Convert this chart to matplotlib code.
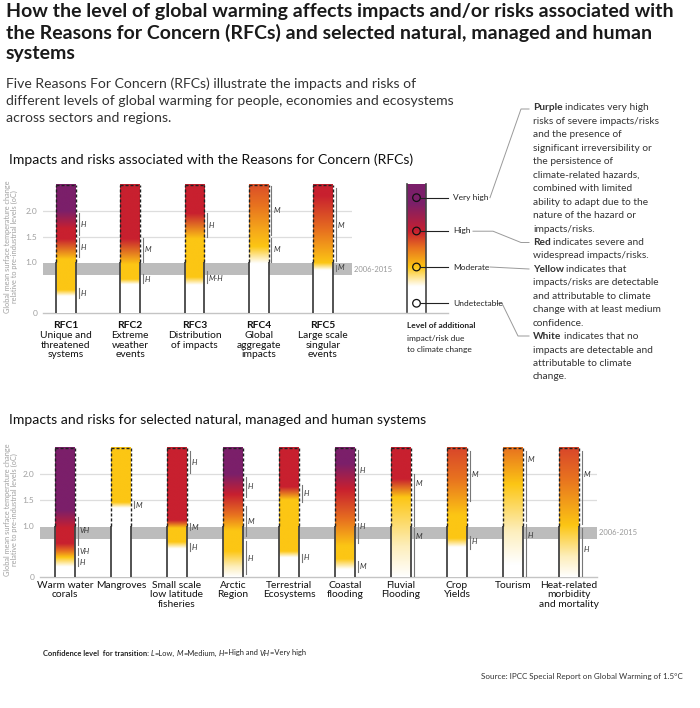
import numpy as np
import matplotlib
matplotlib.use('Agg')
import matplotlib.pyplot as plt
from matplotlib import transforms
from matplotlib.colors import to_rgb
from matplotlib.lines import Line2D

plt.rcParams['font.family'] = ['Lato', 'DejaVu Sans']

# colours of the risk scale
white = '#ffffff'
pale = '#fdeebb'
yellow = '#fcc614'
orange = '#e8731f'
redorange = '#d9472a'
red = '#c8202f'
purple = '#7b1f6a'

# Reasons for Concern (top panel)
rfc_names = ['RFC1', 'RFC2', 'RFC3', 'RFC4', 'RFC5']
rfc_desc = ['Unique and\nthreatened\nsystems', 'Extreme\nweather\nevents', 'Distribution\nof impacts',
            'Global\naggregate\nimpacts', 'Large scale\nsingular\nevents']
rfc_levels = [[0, 0.33, 0.45, 1.05, 1.45, 1.65, 2.0, 2.6],
              [0, 0.56, 0.66, 0.95, 1.45, 2.6],
              [0, 0.55, 0.70, 1.45, 1.95, 2.6],
              [0, 0.97, 1.30, 1.60, 2.10, 2.6],
              [0, 0.84, 0.98, 1.60, 2.30, 2.6]]
rfc_colors = [[white, white, yellow, yellow, red, red, purple, purple],
              [white, white, yellow, yellow, red, red],
              [white, white, yellow, yellow, red, red],
              [white, white, yellow, '#f6aa1a', orange, redorange],
              [white, white, yellow, orange, red, red]]
# confidence of transitions: (from, to, label at, text)
rfc_conf = [[(1.53, 1.97, 1.75, 'H'), (1.10, 1.47, 1.28, 'H'), (0.30, 0.49, 0.38, 'H')],
            [(1.00, 1.47, 1.24, 'M'), (0.60, 0.77, 0.66, 'H')],
            [(1.50, 1.97, 1.73, 'H'), (0.60, 0.83, 0.67, 'M-H')],
            [(1.53, 2.50, 2.02, 'M'), (1.00, 1.47, 1.25, 'M')],
            [(1.03, 2.47, 1.72, 'M'), (0.83, 0.94, 0.89, 'M')]]

# selected natural, managed and human systems (bottom panel)
sys_names = ['Warm water\ncorals', 'Mangroves', 'Small scale\nlow latitude\nfisheries', 'Arctic\nRegion',
             'Terrestrial\nEcosystems', 'Coastal\nflooding', 'Fluvial\nFlooding', 'Crop\nYields',
             'Tourism', 'Heat-related\nmorbidity\nand mortality']
sys_levels = [[0, 0.20, 0.38, 0.50, 0.65, 0.95, 1.30, 2.6],
              [0, 1.34, 1.45, 2.6],
              [0, 0.55, 0.68, 0.95, 1.10, 2.6],
              [0, 0.20, 0.50, 0.90, 1.20, 1.60, 2.00, 2.6],
              [0, 0.38, 0.50, 1.50, 1.75, 2.6],
              [0, 0.15, 0.35, 0.60, 1.10, 1.70, 2.20, 2.6],
              [0, 0.60, 1.55, 1.90, 2.6],
              [0, 0.58, 0.75, 1.20, 1.90, 2.5],
              [0, 0.25, 0.90, 1.80, 2.5],
              [0, 0.40, 1.00, 1.90, 2.5]]
sys_colors = [[white, white, yellow, orange, red, red, purple, purple],
              [white, white, yellow, yellow],
              [white, white, yellow, yellow, red, red],
              [white, pale, yellow, yellow, orange, red, purple, purple],
              [white, white, yellow, yellow, red, red],
              [white, white, yellow, yellow, orange, red, purple, purple],
              [white, pale, yellow, red, red],
              [white, white, yellow, yellow, orange, redorange],
              [white, white, pale, yellow, orange],
              [white, pale, yellow, orange, redorange]]
sys_conf = [[(0.62, 1.17, 0.90, 'VH'), (0.42, 0.56, 0.49, 'VH'), (0.20, 0.36, 0.28, 'H')],
            [(1.34, 1.47, 1.40, 'M')],
            [(2.02, 2.46, 2.24, 'H'), (0.91, 1.05, 0.97, 'M'), (0.51, 0.66, 0.58, 'H')],
            [(1.55, 1.95, 1.76, 'H'), (0.80, 1.38, 1.08, 'M'), (0.05, 0.70, 0.36, 'H')],
            [(1.45, 1.80, 1.63, 'H'), (0.28, 0.45, 0.37, 'H')],
            [(1.10, 2.47, 2.08, 'H'), (0.66, 1.05, 0.98, 'H'), (0.10, 0.30, 0.20, 'M')],
            [(1.00, 2.00, 1.82, 'M'), (0.00, 0.95, 0.79, 'M')],
            [(1.48, 2.46, 2.00, 'M'), (0.55, 0.80, 0.68, 'H')],
            [(1.09, 2.46, 2.28, 'M'), (0.00, 1.02, 0.80, 'H')],
            [(1.02, 2.46, 2.00, 'M'), (0.00, 0.95, 0.53, 'H')]]

bar_top = 2.52
band = (0.74, 0.98)
band_label = '2006-2015'
yticks = [0, 1.0, 1.5, 2.0]
ytick_labels = ['0', '1.0', '1.5', '2.0']

legend_names = ['Very high', 'High', 'Moderate', 'Undetectable']
legend_pos = [0.893, 0.632, 0.35, 0.066]
legend_levels = [0, 0.2, 0.35, 0.5, 0.63, 0.85, 1.0]
legend_colors = [white, white, yellow, orange, red, purple, purple]

W, H = 700, 708
fig = plt.figure(figsize=(7, 7.08), dpi=100)
renderer = fig.canvas.get_renderer()


def fx(x):
    return x / W


def fy(y):
    return 1 - y / H


def gradient(levels, colors, top, n=400):
    v = np.linspace(0, top, n)
    rgb = np.array([to_rgb(c) for c in colors])
    img = np.stack([np.interp(v, levels, rgb[:, k]) for k in range(3)], axis=1)
    return img[:, None, :]


def rich_line(x, y, parts, size, color, gap=2.4):
    # write bold / italic pieces one after another on the same line
    for part in parts:
        txt, kw = part[0], part[1]
        g = part[2] if len(part) > 2 else gap
        t = fig.text(fx(x), fy(y), txt, fontsize=size, color=color, va='center', **kw)
        x += t.get_window_extent(renderer).width + g


def draw_panel(ax, levels, colors, confs, names, width, label_y, xmax_zero, bold_names=None):
    n = len(levels)
    ax.axhspan(band[0], band[1], color='#bcbcbc', lw=0, zorder=0.5)
    for g in (1.5, 2.0):
        ax.axhline(g, color='#dddddd', lw=0.9, zorder=0.2)
    ax.axhline(0, xmin=0, xmax=xmax_zero, color='#c4c4c4', lw=1.0, clip_on=False, zorder=0.3)
    conf_line = transforms.offset_copy(ax.transData, fig, x=2.6, units='dots')
    conf_text = transforms.offset_copy(ax.transData, fig, x=4.5, units='dots')
    lab_tr = transforms.blended_transform_factory(ax.transData, fig.transFigure)
    for i in range(n):
        xl, xr = i - width / 2, i + width / 2
        ax.imshow(gradient(levels[i], colors[i], bar_top), origin='lower', aspect='auto',
                  extent=[xl, xr, 0, bar_top], interpolation='bilinear', zorder=2)
        for xe in (xl, xr):
            ax.plot([xe, xe], [0, 1.0], color='#444444', lw=1.3, zorder=3, solid_capstyle='butt')
            ax.plot([xe, xe], [1.0, bar_top], color='#222222', lw=1.0, ls=(0, (2.2, 1.4)), zorder=3)
        ax.plot([xl, xr], [bar_top, bar_top], color='#222222', lw=1.0, ls=(0, (2.2, 1.4)), zorder=3)
        for lo, hi, at, txt in confs[i]:
            ax.plot([xr, xr], [lo, hi], color='#777777', lw=0.8, transform=conf_line, zorder=3)
            ax.text(xr, at, txt, transform=conf_text, fontsize=5.5, style='italic',
                    color='#333333', va='center', ha='left', zorder=4)
        if bold_names is not None:
            ax.text(i, fy(label_y), bold_names[i], transform=lab_tr, ha='center', va='center',
                    fontsize=7.4, weight='bold', color='#111111')
            ax.text(i, fy(label_y + 5.5), names[i], transform=lab_tr, ha='center', va='top',
                    fontsize=7.4, color='#111111', linespacing=1.05)
        else:
            ax.text(i, fy(label_y), names[i], transform=lab_tr, ha='center', va='top',
                    fontsize=7.4, color='#111111', linespacing=1.05)
    ax.set_ylim(0, 2.6)
    ax.set_yticks(yticks)
    ax.set_yticklabels(ytick_labels)
    ax.tick_params(axis='y', length=0, pad=4, labelsize=6, labelcolor='#a0a0a0')
    ax.set_xticks([])
    for s in ax.spines.values():
        s.set_visible(False)
    ax.patch.set_alpha(0)
    ax.text(1.0, (band[0] + band[1]) / 2, ' ' + band_label, transform=ax.get_yaxis_transform(),
            fontsize=5.5, color='#999999', va='center', ha='left')


# ---- titles
title = ['How the level of global warming affects impacts and/or risks associated with',
         'the Reasons for Concern (RFCs) and selected natural, managed and human',
         'systems']
for k, line in enumerate(title):
    fig.text(fx(6), fy(11 + 21.5 * k), line, fontsize=14.0, weight='bold', color='#1a1a1a', va='center')
sub = ['Five Reasons For Concern (RFCs) illustrate the impacts and risks of',
       'different levels of global warming for people, economies and ecosystems',
       'across sectors and regions.']
for k, line in enumerate(sub):
    fig.text(fx(6), fy(84 + 17 * k), line, fontsize=10.1, color='#333333', va='center')
fig.text(fx(9), fy(160), 'Impacts and risks associated with the Reasons for Concern (RFCs)',
         fontsize=10.1, color='#111111', va='center')
fig.text(fx(9), fy(420), 'Impacts and risks for selected natural, managed and human systems',
         fontsize=10.1, color='#111111', va='center')

# ---- top panel
ax1 = fig.add_axes([fx(43), fy(313), (352 - 43) / W, (313 - 180.9) / H])
draw_panel(ax1, rfc_levels, rfc_colors, rfc_conf, rfc_desc, 0.311, 326, (448 - 43) / (352 - 43),
           bold_names=rfc_names)
ax1.set_xlim((43 - 66) / 64.25, (352 - 66) / 64.25)

# ---- bottom panel
ax2 = fig.add_axes([fx(40), fy(576.7), (597 - 40) / W, (576.7 - 443.6) / H])
draw_panel(ax2, sys_levels, sys_colors, sys_conf, sys_names, 0.357, 581, 1.0)
ax2.set_xlim((40 - 65) / 56, (597 - 65) / 56)

ylab = 'Global mean surface temperature change\nrelative to pre-industrial levels (oC)'
fig.text(fx(11), fy(247), ylab, rotation=90, fontsize=5.3, color='#a0a0a0', ha='center', va='center',
         linespacing=1.0)
fig.text(fx(11), fy(510), ylab, rotation=90, fontsize=5.3, color='#a0a0a0', ha='center', va='center',
         linespacing=1.0)

# ---- legend scale
lb, lt = 311.7, 184
axl = fig.add_axes([fx(407), fy(lb), 19 / W, (lb - lt) / H])
axl.imshow(gradient(legend_levels, legend_colors, 1.0), origin='lower', aspect='auto',
           extent=[0, 1, 0, 1], interpolation='bilinear')
axl.scatter([0.5] * len(legend_pos), legend_pos, s=30, facecolor='none', edgecolor='#111111', lw=0.9, zorder=3)
axl.set_xlim(0, 1)
axl.set_ylim(0, 1)
axl.set_xticks([])
axl.set_yticks([])
for side in ('top', 'bottom'):
    axl.spines[side].set_visible(False)
for side in ('left', 'right'):
    axl.spines[side].set_color('#444444')
    axl.spines[side].set_linewidth(1.2)
for name, p in zip(legend_names, legend_pos):
    yy = lb - p * (lb - lt)
    fig.add_artist(Line2D([fx(420.5), fx(448)], [fy(yy), fy(yy)], color='#222222', lw=0.8))
    fig.text(fx(453), fy(yy), name, fontsize=6, color='#222222', va='center')
for k, line in enumerate(['Level of additional', 'impact/risk due', 'to climate change']):
    fig.text(fx(407), fy(326 + 12 * k), line, fontsize=6, color='#222222', va='center',
             weight='bold' if k == 0 else 'normal')

# ---- explanation of the colours
notes = [[('Purple', {'weight': 'bold'}), ('indicates very high', {})],
         [('risks of severe impacts/risks', {})],
         [('and the presence of', {})],
         [('significant irreversibility or', {})],
         [('the persistence of', {})],
         [('climate-related hazards,', {})],
         [('combined with limited', {})],
         [('ability to adapt due to the', {})],
         [('nature of the hazard or', {})],
         [('impacts/risks.', {})],
         [('Red', {'weight': 'bold'}), ('indicates severe and', {})],
         [('widespread impacts/risks.', {})],
         [('Yellow', {'weight': 'bold'}), ('indicates that', {})],
         [('impacts/risks are detectable', {})],
         [('and attributable to climate', {})],
         [('change with at least medium', {})],
         [('confidence.', {})],
         [('White', {'weight': 'bold'}), ('indicates that no', {})],
         [('impacts are detectable and', {})],
         [('attributable to climate', {})],
         [('change.', {})]]
for k, parts in enumerate(notes):
    rich_line(533, 108 + 13.45 * k, parts, 7.3, '#333333')

leaders = [[(490, 197.7), (521, 109), (529, 109)],
           [(473, 231.2), (493, 231.2), (521, 242.5), (529, 242.5)],
           [(490, 267), (529, 269)],
           [(497, 303.3), (502, 303.3), (518, 336), (529, 336)]]
for pts in leaders:
    xs = [fx(p[0]) for p in pts]
    ys = [fy(p[1]) for p in pts]
    fig.add_artist(Line2D(xs, ys, color='#9a9a9a', lw=0.7))

# ---- footnotes
rich_line(43, 653, [('Confidence level  for transition:', {'weight': 'bold'}, 2.0),
                    ('L', {'style': 'italic'}, 0.2), ('=Low,', {}, 1.8),
                    ('M', {'style': 'italic'}, 0.2), ('=Medium,', {}, 1.8),
                    ('H', {'style': 'italic'}, 0.2), ('=High and', {}, 1.8),
                    ('VH', {'style': 'italic'}, 0.2), ('=Very high', {}, 0)], 5.4, '#222222')
fig.text(fx(683), fy(677), 'Source: IPCC Special Report on Global Warming of 1.5°C', fontsize=5.8,
         color='#333333', ha='right', va='center')

fig.savefig('out.png', dpi=100, facecolor='white')
